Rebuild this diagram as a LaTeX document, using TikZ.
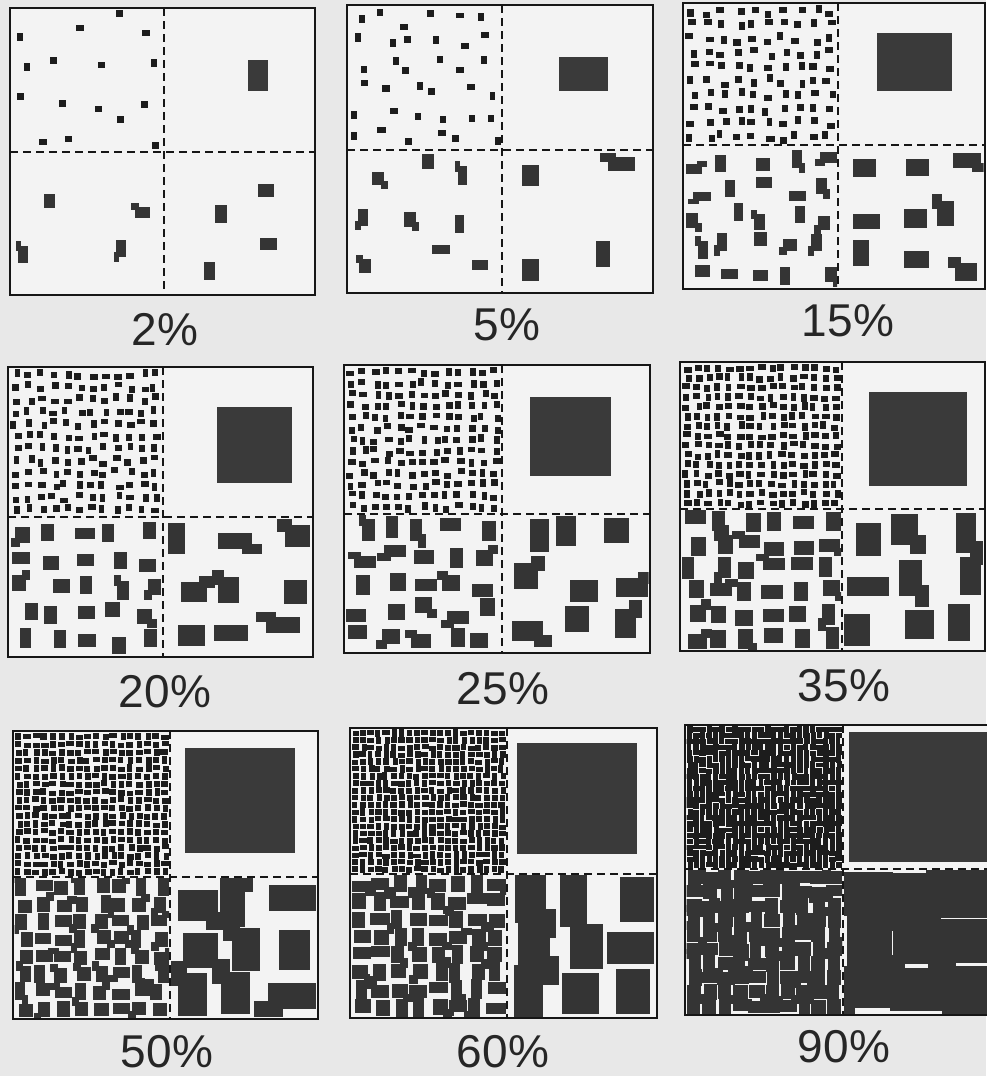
\documentclass[tikz,border=0pt]{standalone}
\usepackage{fontspec}
\setmainfont{Liberation Sans}
\definecolor{pagebg}{RGB}{232,232,232}
\definecolor{panelbg}{RGB}{243,243,243}
\definecolor{tinyc}{RGB}{28,28,28}
\definecolor{midc}{RGB}{52,52,52}
\definecolor{bigc}{RGB}{58,58,58}
\definecolor{linec}{RGB}{22,22,22}
\tikzset{
  panelfill/.style={fill=panelbg},
  divline/.style={draw=linec,line width=2.3pt,dash pattern=on 8pt off 5pt},
  boxline/.style={draw=linec,line width=2.6pt},
  tinyfill/.style={fill=tinyc},
  midfill/.style={fill=midc},
  bigfill/.style={fill=bigc},
  pctlabel/.style={font=\fontsize{46}{46}\selectfont,text=black!85,anchor=base,inner sep=0pt},
}
% #1 x0 #2 y0 #3 x1 #4 y1 #5 cells per side #6 density #7 style #8 L-probability #9 aspect spread
\newcommand\fillquad[9]{%
  \pgfmathsetmacro\qcx{(#3-#1)/#5}%
  \pgfmathsetmacro\qcy{(#4-#2)/#5}%
  \pgfmathsetmacro\qa{sqrt(#6*\qcx*\qcy)}%
  \begin{scope}
  \clip (#1,#2) rectangle (#3,#4);
  \foreach \qi in {1,...,#5}{
    \foreach \qj in {1,...,#5}{
      \pgfmathsetmacro\qr{exp(#9*rand)}
      \pgfmathsetmacro\qw{\qa*\qr}
      \pgfmathsetmacro\qh{\qa/\qr}
      \pgfmathsetmacro\qx{#1+(\qi-1)*\qcx+rnd*(\qcx-\qw)}
      \pgfmathsetmacro\qy{#2+(\qj-1)*\qcy+rnd*(\qcy-\qh)}
      \fill[#7] (\qx,\qy) rectangle ++(\qw,\qh);
      \pgfmathtruncatemacro\qL{rnd<#8 ? 1 : 0}
      \ifnum\qL=1
        \pgfmathtruncatemacro\qc{floor(4*rnd)}
        \pgfmathsetmacro\qex{\qx+(mod(\qc,2)==0 ? -0.3 : 0.7)*\qw}
        \pgfmathsetmacro\qey{\qy+(\qc<2 ? -0.3 : 0.7)*\qh}
        \fill[#7] (\qex,\qey) rectangle ++(0.6*\qw,0.6*\qh);
      \fi
    }
  }
  \end{scope}
}
\newcommand\panelback[4]{\fill[panelfill] (#1,#2) rectangle (#3,#4);}
% #1 x0 #2 y0 #3 x1 #4 y1 #5 v #6 h
\newcommand\panellines[6]{%
  \draw[divline] (#5,#2) -- (#5,#4);
  \draw[divline] (#1,#6) -- (#3,#6);
  \draw[boxline] (#1,#2) rectangle (#3,#4);
}
\begin{document}
\begin{tikzpicture}[x=1pt,y=-1pt]
\useasboundingbox (0,0) rectangle (986,1076);
\fill[pagebg] (0,0) rectangle (986,1076);

% ---- 2%
\pgfmathsetseed{21}
\panelback{10}{8}{315}{295}
\fillquad{11.5}{9.5}{163}{151}{4}{0.035}{tinyfill}{0}{0.2}
\fillquad{11.5}{153}{163}{293.5}{2}{0.03}{midfill}{0.35}{0.35}
\fillquad{165}{153}{313.5}{293.5}{2}{0.04}{midfill}{0.3}{0.45}
\fill[bigfill] (248,60) rectangle (268,91);
\panellines{10}{8}{315}{295}{164}{152}
\node[pctlabel] (l02) at (165,345) {2\%};

% ---- 5%
\pgfmathsetseed{52}
\panelback{347}{5}{653}{293}
\fillquad{348.5}{6.5}{501}{149}{6}{0.08}{tinyfill}{0}{0.2}
\fillquad{348.5}{151}{501}{291.5}{3}{0.07}{midfill}{0.35}{0.35}
\fillquad{503}{151}{651.5}{291.5}{2}{0.07}{midfill}{0.3}{0.45}
\fill[bigfill] (559,57) rectangle (608,91);
\panellines{347}{5}{653}{293}{502}{150}
\node[pctlabel] (l05) at (507,340) {5\%};

% ---- 15%
\pgfmathsetseed{153}
\panelback{683}{3}{985}{289}
\fillquad{684.5}{4.5}{837}{144}{10}{0.22}{tinyfill}{0}{0.2}
\fillquad{684.5}{146}{837}{287.5}{5}{0.2}{midfill}{0.35}{0.35}
\fillquad{839}{146}{983.5}{287.5}{3}{0.18}{midfill}{0.35}{0.4}
\fill[bigfill] (877,33) rectangle (952,91);
\panellines{683}{3}{985}{289}{838}{145}
\node[pctlabel] (l15) at (848,336) {15\%};

% ---- 20%
\pgfmathsetseed{204}
\panelback{8}{367}{313}{657}
\fillquad{9.5}{368.5}{162}{516}{12}{0.27}{tinyfill}{0}{0.2}
\fillquad{9.5}{518}{162}{655.5}{5}{0.27}{midfill}{0.4}{0.3}
\fillquad{164}{518}{311.5}{655.5}{3}{0.24}{midfill}{0.35}{0.4}
\fill[bigfill] (217,407) rectangle (292,483);
\panellines{8}{367}{313}{657}{163}{517}
\node[pctlabel] (l20) at (165,707) {20\%};

% ---- 25%
\pgfmathsetseed{255}
\panelback{344}{365}{650}{653}
\fillquad{345.5}{366.5}{501}{513}{13}{0.32}{tinyfill}{0}{0.2}
\fillquad{345.5}{515}{501}{651.5}{5}{0.32}{midfill}{0.4}{0.3}
\fillquad{503}{515}{648.5}{651.5}{3}{0.28}{midfill}{0.35}{0.4}
\fill[bigfill] (530,397) rectangle (611,476);
\panellines{344}{365}{650}{653}{502}{514}
\node[pctlabel] (l25) at (503,704) {25\%};

% ---- 35%
\pgfmathsetseed{356}
\panelback{680}{362}{985}{651}
\fillquad{681.5}{363.5}{841}{508}{15}{0.42}{tinyfill}{0}{0.2}
\fillquad{681.5}{510}{841}{649.5}{6}{0.45}{midfill}{0.4}{0.3}
\fillquad{843}{510}{983.5}{649.5}{3}{0.38}{midfill}{0.35}{0.4}
\fill[bigfill] (869,392) rectangle (967,486);
\panellines{680}{362}{985}{651}{842}{509}
\node[pctlabel] (l35) at (844,701) {35\%};

% ---- 50%
\pgfmathsetseed{507}
\panelback{13}{731}{318}{1019}
\fillquad{14.5}{732.5}{169}{876}{18}{0.55}{tinyfill}{0}{0.2}
\fillquad{14.5}{878}{169}{1017.5}{8}{0.56}{midfill}{0.4}{0.3}
\fillquad{171}{878}{316.5}{1017.5}{3}{0.55}{midfill}{0.4}{0.35}
\fill[bigfill] (185,748) rectangle (295,853);
\panellines{13}{731}{318}{1019}{170}{877}
\node[pctlabel] (l50) at (167,1067) {50\%};

% ---- 60%
\pgfmathsetseed{608}
\panelback{350}{728}{657}{1018}
\fillquad{351.5}{729.5}{506}{873}{20}{0.65}{tinyfill}{0}{0.2}
\fillquad{351.5}{875}{506}{1016.5}{8}{0.65}{midfill}{0.4}{0.3}
\fillquad{508}{875}{655.5}{1016.5}{3}{0.65}{midfill}{0.4}{0.35}
\fill[bigfill] (517,743) rectangle (637,854);
\panellines{350}{728}{657}{1018}{507}{874}
\node[pctlabel] (l60) at (503,1067) {60\%};

% ---- 90%
\pgfmathsetseed{909}
\panelback{685}{725}{992}{1015}
\fillquad{686.5}{726.5}{842}{868}{24}{0.9}{tinyfill}{0}{0.2}
\fillquad{686.5}{870}{842}{1013.5}{10}{0.95}{midfill}{0.4}{0.25}
\fillquad{844}{870}{990}{1013.5}{3}{0.97}{midfill}{0.4}{0.15}
\fill[bigfill] (849,732) rectangle (992,862);
\panellines{685}{725}{992}{1015}{843}{869}
\node[pctlabel] (l90) at (844,1062) {90\%};
\end{tikzpicture}
\end{document}
